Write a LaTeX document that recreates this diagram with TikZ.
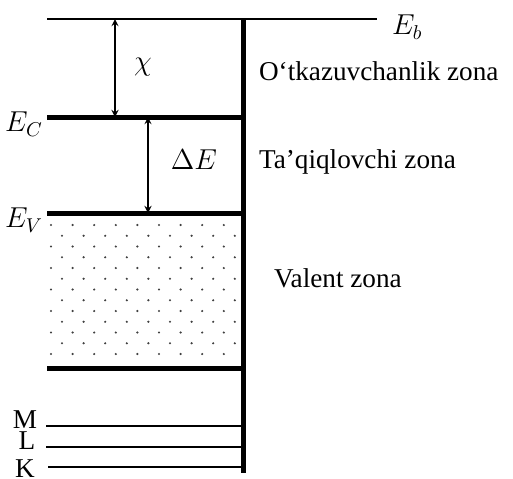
\documentclass[tikz,border=0pt]{standalone}
\usepackage{fontspec}
\setmainfont{Liberation Serif}[Ligatures=Common]
\begin{document}
\begin{tikzpicture}[x=0.5pt,y=-0.5pt,
		level/.style={line width=2.5pt},
		sublevel/.style={line width=0.7pt},
		gap/.style={line width=0.6pt,stealth-stealth},
		lbl/.style={font=\fontsize{13.6}{16}\selectfont}]
		\useasboundingbox(0,0)rectangle(513,478);
		% valence band filling
		\foreach \i in {0,...,12}{
			\pgfmathsetmacro\xs{mod(\i,2)==0 ? 51 : 62}
			\foreach \j in {0,...,8}
				\fill[black!75](\xs+\j*21.6,225+\i*10.75)circle(0.6pt);
		}
		% levels
		\draw[sublevel](47,19)--(377,19);
		\draw[line width=2.5pt](243,19)--(243,473);
		\draw[level](47,117)--(243,117);
		\draw[level](47,213)--(243,213);
		\draw[level](47,368)--(243,368);
		\draw[sublevel](46,426)--(243,426);
		\draw[sublevel](46,447)--(243,447);
		\draw[sublevel](48,467)--(243,467);
		\coordinate(chitop)at(115,19);
		\coordinate(chibot)at(115,117);
		\coordinate(gaptop)at(148,117);
		\coordinate(gapbot)at(148,213);
		\draw[gap](chitop)--(chibot);
		\draw[gap](gaptop)--(gapbot);
		% labels
		\node[lbl,right](eb)at(385,27){$E_b$};
		\node[lbl](ec)at(24,124){$E_C$};
		\node[lbl](ev)at(24,220){$E_V$};
		\node[lbl](chi)at(143,67){$\chi$};
		\node[lbl](de)at(194,160){$\Delta E$};
		\node[lbl,right](cond)at(252,71){O`tkazuvchanlik zona};
		\node[lbl,right](forb)at(252,162){Ta’qiqlovchi zona};
		\node[lbl,right](val)at(267,278){Valent zona};
		\node[lbl](m)at(25,420){M};
		\node[lbl](l)at(27,441){L};
		\node[lbl](k)at(25,469){K};
	\end{tikzpicture}
\end{document}
